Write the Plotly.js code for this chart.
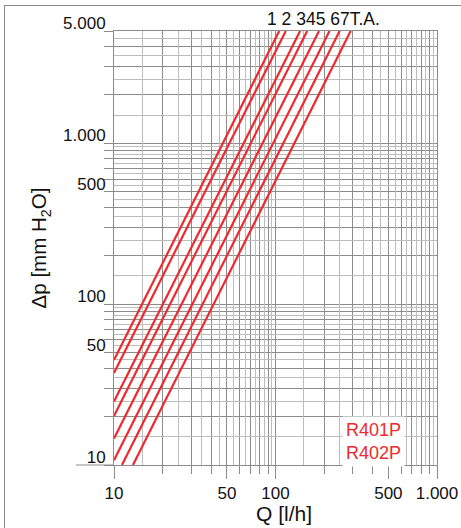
<!DOCTYPE html>
<html>
<head>
<meta charset="utf-8">
<script src="https://cdn.plot.ly/plotly-3.0.1.min.js"></script>
<style>
  html, body { margin: 0; padding: 0; background: #fff; }
  #wrap { position: relative; width: 461px; height: 528px; overflow: hidden; }
  #chart { position: absolute; left: 0; top: 0; width: 461px; height: 528px; }
  #frame { position: absolute; left: 4px; top: 5px; width: 600px; height: 600px;
           border-left: 1px solid #8a8a8a; border-top: 1px solid #8a8a8a; pointer-events: none; }
</style>
</head>
<body>
<div id="wrap"><div id="chart"></div><div id="frame"></div></div>
<script>
// Curve names (valve settings) and endpoints
const curveNames = ['1', '2', '3', '4', '5', '6', '7', 'T.A.'];
const qStart  = [10, 10, 10, 10, 10, 10, 11.2, 13.1];        // Q [l/h] at lower end
const dpStart = [45, 37.3, 24.8, 20.2, 14.6, 10.7, 10, 10];   // Δp [mm H2O] at lower end
const qEnd    = [105.5, 115.8, 142, 157, 186, 216, 249.5, 292];
const dpEnd   = [5000, 5000, 5000, 5000, 5000, 5000, 5000, 5000];

// Axis tick labels
const xTickVals = [10, 50, 100, 500, 1000];
const xTickText = ['10', '50', '100', '500', '1.000'];
const yTickVals = [10, 50, 100, 500, 1000, 5000];
const yTickText = ['10', '50', '100', '500', '1.000', '5.000'];

const xTitle = 'Q [l/h]';
const yTitle = 'Δp [mm H<sub>2</sub>O]';
const curveLabel = '1 2 345 67T.A.';
const legendText = 'R401P<br>R402P';

// grid helper values (integer multiples and half steps per decade)
function intSteps(decades, maxV) {
  const out = [];
  decades.forEach(d => { for (let k = 2; k <= 9; k++) if (k * d <= maxV) out.push(k * d); });
  return out;
}
function halfSteps(decades, maxV) {
  const out = [];
  decades.forEach(d => { for (let k = 1; k <= 9; k++) if ((k + 0.5) * d <= maxV) out.push((k + 0.5) * d); });
  return out;
}
const xMinor = intSteps([10, 100], 1000);
const xHalf = halfSteps([10, 100], 1000);
const yMinor = intSteps([10, 100, 1000], 5000);
const yHalf = halfSteps([10, 100, 1000], 5000);

const RED = '#ee2a2e';
const DARK = '#8c8c8c';
const LIGHT = '#bdbdbd';
const FONT = 'Liberation Sans, Arial, sans-serif';

const traces = curveNames.map((n, i) => ({
  type: 'scatter', mode: 'lines', name: n,
  x: [qStart[i], qEnd[i]], y: [dpStart[i], dpEnd[i]],
  line: { color: RED, width: 2.2 }, hoverinfo: 'none'
}));
traces.push({ type: 'scatter', mode: 'lines', x: [], y: [], xaxis: 'x2', yaxis: 'y2', showlegend: false, hoverinfo: 'none' });

const xr = [1, 3];
const yr = [1, Math.log10(5000)];

const layout = {
  width: 461, height: 528,
  margin: { l: 114, r: 24, t: 31, b: 63 },
  paper_bgcolor: 'rgba(0,0,0,0)', plot_bgcolor: '#fff',
  showlegend: false,
  font: { family: FONT, color: '#111', size: 17 },
  xaxis: {
    type: 'log', range: xr,
    tickmode: 'array', tickvals: xTickVals, ticktext: xTickText,
    ticks: 'outside', ticklen: 13, tickcolor: DARK, tickwidth: 1,
    showgrid: true, gridcolor: DARK, gridwidth: 1,
    showline: true, linecolor: DARK, linewidth: 1, mirror: true,
    zeroline: false,
    tickfont: { size: 17, family: FONT, color: '#111' },
    minor: { tickmode: 'array', tickvals: xMinor, ticks: 'outside', ticklen: 8, tickcolor: DARK,
             showgrid: true, gridcolor: DARK, gridwidth: 1 }
  },
  yaxis: {
    type: 'log', range: yr,
    tickmode: 'array', tickvals: yTickVals, ticktext: yTickText,
    ticks: 'outside', ticklen: 9, tickcolor: DARK, tickwidth: 1,
    ticklabelshift: -8, ticklabelstandoff: -5,
    showgrid: true, gridcolor: DARK, gridwidth: 1,
    showline: true, linecolor: DARK, linewidth: 1, mirror: true,
    zeroline: false,
    tickfont: { size: 17, family: FONT, color: '#111' },
    minor: { tickmode: 'array', tickvals: yMinor, ticks: 'outside', ticklen: 9, tickcolor: DARK,
             showgrid: true, gridcolor: DARK, gridwidth: 1 },
    title: { text: yTitle, font: { size: 20.5, family: FONT, color: '#111' }, standoff: 10 }
  },
  xaxis2: {
    type: 'log', range: xr, overlaying: 'x', tickmode: 'array', tickvals: xHalf,
    showticklabels: false, ticks: '', showgrid: true, gridcolor: LIGHT, gridwidth: 1, zeroline: false, showline: false
  },
  yaxis2: {
    type: 'log', range: yr, overlaying: 'y', tickmode: 'array', tickvals: yHalf,
    showticklabels: false, ticks: '', showgrid: true, gridcolor: LIGHT, gridwidth: 1, zeroline: false, showline: false
  },
  shapes: [
    { type: 'line', xref: 'paper', yref: 'paper', x0: -0.118, x1: 0, y0: 0, y1: 0, line: { color: DARK, width: 1 } }
  ],
  annotations: [
    { xref: 'paper', yref: 'paper', x: 0.648, y: 1, yanchor: 'bottom', xanchor: 'center', yshift: 0,
      text: curveLabel, showarrow: false, font: { size: 17.5, family: FONT, color: '#111' } },
    { xref: 'paper', yref: 'paper', x: 0.803, y: 0.055, xanchor: 'center', yanchor: 'middle',
      text: legendText, showarrow: false, align: 'left', bgcolor: '#fff', borderpad: 3,
      font: { size: 18, family: FONT, color: RED } },
    { xref: 'paper', yref: 'paper', x: 0.527, y: -0.111, xanchor: 'center', yanchor: 'middle',
      text: xTitle, showarrow: false, font: { size: 21, family: FONT, color: '#111' } }
  ]
};

Plotly.newPlot('chart', traces, layout, { displayModeBar: false, staticPlot: true });
</script>
</body>
</html>
